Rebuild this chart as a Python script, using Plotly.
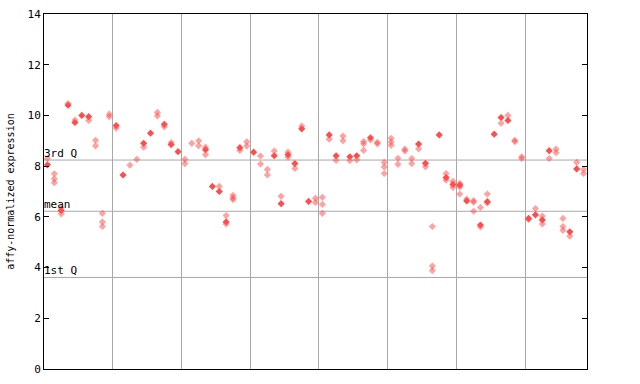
import plotly.graph_objects as go

# sample index 0..78 ; values per sample
solid_vals = [
    [8.05], [], [6.25], [10.4], [9.72], [10.0], [9.95], [], [], [],
    [9.6], [7.65], [], [], [8.9], [9.3], [], [9.65], [8.85], [8.57],
    [], [], [], [8.65], [7.2], [7.0], [5.8], [], [8.73], [],
    [8.55], [], [], [8.41], [6.52], [8.45], [8.1], [9.47], [6.61], [],
    [], [9.23], [8.41], [], [8.37], [8.41], [], [9.12], [], [],
    [], [], [], [], [8.87], [8.11], [], [9.23], [7.55], [7.28],
    [7.25], [6.63], [], [5.68], [6.6], [9.26], [9.92], [9.8], [], [],
    [5.94], [6.08], [5.88], [8.61], [], [], [5.41], [7.89], [],
]
faint_vals = [
    [8.3], [7.7, 7.5, 7.35], [6.35, 6.12], [10.47], [9.82], [], [9.8], [9.02, 8.8], [6.14, 5.8, 5.62], [10.05, 9.95],
    [9.5], [], [8.04], [8.27], [8.75], [], [10.12, 9.98], [9.55], [8.93], [],
    [8.27, 8.1], [8.9], [9.0, 8.8], [8.75, 8.45], [], [7.2], [6.05, 5.72], [6.85, 6.75, 6.68], [8.62], [8.96, 8.79],
    [], [8.4, 8.08], [7.87, 7.65], [8.6], [6.81], [8.55, 8.35], [7.91], [9.58], [], [6.73, 6.57],
    [6.77, 6.49, 6.14], [9.06], [8.23], [9.19, 9.0], [8.22], [8.25], [8.97, 8.88, 8.62], [9.03], [8.94, 8.88], [8.15, 7.97, 7.71],
    [9.1, 8.95, 8.82], [8.31, 8.07], [8.67, 8.6], [8.3, 8.1], [8.68], [7.98], [5.62, 4.06, 3.88], [], [7.71, 7.45], [7.4, 7.16],
    [7.32, 7.18, 6.9], [6.7], [6.64, 6.58, 6.22], [6.37, 5.6], [6.9, 6.55], [], [9.69], [10.0], [9.02, 8.97], [8.37, 8.3],
    [5.9], [6.33], [6.03, 5.72], [8.3], [8.67, 8.53], [5.94, 5.62, 5.47], [5.24], [8.15], [7.87, 7.71],
]
group_bounds = [9.5, 19.5, 29.5, 39.5, 49.5, 59.5, 69.5]
quartiles = {"3rd Q": 8.24, "mean": 6.22, "1st Q": 3.61}
y_ticks = [0, 2, 4, 6, 8, 10, 12, 14]

sx, sy, fx, fy = [], [], [], []
for i, vs in enumerate(solid_vals):
    for v in vs:
        sx.append(i); sy.append(v)
for i, vs in enumerate(faint_vals):
    for v in vs:
        fx.append(i); fy.append(v)

MONO = "DejaVu Sans Mono"
fig = go.Figure()
fig.add_trace(go.Scatter(x=fx, y=fy, mode="markers",
                         marker=dict(symbol="diamond", size=5.5, color="rgba(255,70,70,0.5)",
                                     line=dict(width=0)),
                         showlegend=False, hoverinfo="y"))
fig.add_trace(go.Scatter(x=sx, y=sy, mode="markers",
                         marker=dict(symbol="diamond", size=5.5, color="#ff4d4d",
                                     line=dict(width=0)),
                         showlegend=False, hoverinfo="y"))

for name, val in quartiles.items():
    fig.add_shape(type="line", xref="paper", x0=0, x1=1, yref="y", y0=val, y1=val,
                  line=dict(color="#a8a8a8", width=1), layer="below")
    fig.add_annotation(text=name, xref="paper", x=0, xanchor="left", yref="y", y=val,
                       yanchor="bottom", showarrow=False, yshift=-2, xshift=-2,
                       font=dict(family=MONO, size=11, color="black"))

fig.add_annotation(text="affy-normalized expression", xref="paper", x=-0.062, xanchor="center",
                   yref="paper", y=0.5, yanchor="middle", textangle=-90, showarrow=False,
                   font=dict(family=MONO, size=10, color="black"))

fig.update_layout(
    width=640, height=384,
    margin=dict(l=44, r=53, t=14, b=15, autoexpand=False),
    paper_bgcolor="white", plot_bgcolor="white",
    xaxis=dict(range=[-0.5, 78.5], tickvals=group_bounds, showticklabels=False,
               ticks="", showgrid=True, gridcolor="#a8a8a8", gridwidth=1, automargin=False,
               showline=True, linecolor="black", linewidth=1, mirror=True, zeroline=False),
    yaxis=dict(range=[0, 14], tickvals=y_ticks, ticks="inside", ticklen=5,
               tickcolor="black", showgrid=False, zeroline=False, automargin=False,
               showline=True, linecolor="black", linewidth=1, mirror="ticks",
               tickfont=dict(family=MONO, size=11, color="black")),
)

fig.write_html("out.html", config={"displayModeBar": False},
               post_script="document.body.style.margin='0';")
